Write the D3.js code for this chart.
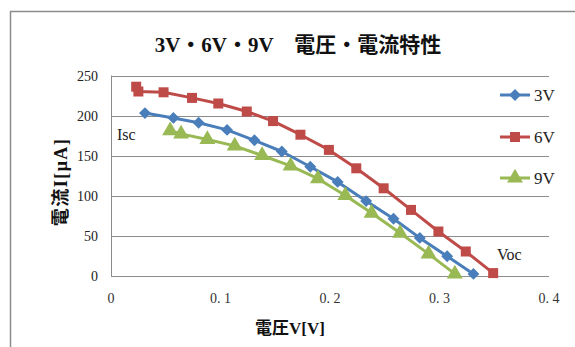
<!DOCTYPE html>
<html><head><meta charset="utf-8">
<script src="https://cdn.jsdelivr.net/npm/d3@7"></script>
<style>body{margin:0;background:#fff;}svg{display:block;}</style>
</head><body>
<svg id="c" width="575" height="347"></svg>
<script>
const title = "3V・6V・9V　電圧・電流特性";
const xTicks = [0, 0.1, 0.2, 0.3, 0.4];
const xTickLabels = ["0", "0. 1", "0. 2", "0. 3", "0. 4"];
const yTicks = [0, 50, 100, 150, 200, 250];
const seriesNames = ["3V", "6V", "9V"];
const v3 = [0.031, 0.057, 0.080, 0.106, 0.131, 0.156, 0.182, 0.207, 0.233, 0.258, 0.282, 0.307, 0.331];
const i3 = [203, 197, 191, 182, 169, 155, 136, 117, 93, 71, 47, 24, 2];
const v6 = [0.023, 0.025, 0.048, 0.074, 0.098, 0.124, 0.148, 0.173, 0.199, 0.224, 0.249, 0.274, 0.299, 0.324, 0.349];
const i6 = [236, 230, 229, 222, 215, 205, 193, 176, 157, 134, 109, 82, 55, 30, 3];
const v9 = [0.054, 0.064, 0.088, 0.113, 0.138, 0.164, 0.189, 0.214, 0.238, 0.264, 0.290, 0.314];
const i9 = [181, 177, 170, 162, 150, 137, 121, 100, 78, 53, 27, 2];

const colors = ["#4a7ebb", "#be4b48", "#98b954"];
const symbols = [d3.symbolDiamond2, d3.symbolSquare, d3.symbolTriangle];
const symSizes = [90, 100, 110];
const series = [
  {name: seriesNames[0], v: v3, i: i3},
  {name: seriesNames[1], v: v6, i: i6},
  {name: seriesNames[2], v: v9, i: i9}
];

const svg = d3.select("#c");
const serif = "'Liberation Serif','DejaVu Serif','Noto Sans CJK JP',serif";
const cjk = "'Liberation Serif','Noto Sans CJK JP',serif";

// outer border (clipped at right/bottom)
svg.append("rect").attr("x", 10.5).attr("y", 11.5).attr("width", 600).attr("height", 400)
  .attr("fill", "none").attr("stroke", "#8c8c8c").attr("stroke-width", 1.5);

const x = d3.scaleLinear().domain([0, 0.4]).range([111, 549]);
const y = d3.scaleLinear().domain([0, 250]).range([275.5, 75.5]);

// gridlines
svg.append("g").selectAll("line").data(yTicks).join("line")
  .attr("x1", 111).attr("x2", 549)
  .attr("y1", d => Math.round(y(d)) + 0.5).attr("y2", d => Math.round(y(d)) + 0.5)
  .attr("stroke", "#8c8c8c").attr("stroke-width", 1);
svg.append("line").attr("x1", 111.5).attr("x2", 111.5).attr("y1", y(250)).attr("y2", y(0) + 0.5)
  .attr("stroke", "#8c8c8c").attr("stroke-width", 1);

// y tick labels
svg.append("g").selectAll("text").data(yTicks).join("text")
  .attr("x", 98).attr("y", d => y(d) + 5)
  .attr("text-anchor", "end").attr("font-family", serif).attr("font-size", 14)
  .attr("fill", "#222").text(d => d);

// x tick labels
svg.append("g").selectAll("text").data(xTicks).join("text")
  .attr("x", d => x(d)).attr("y", 303)
  .attr("text-anchor", "middle").attr("font-family", serif).attr("font-size", 14)
  .attr("fill", "#333").text((d, k) => xTickLabels[k]);

// lines and markers
const line = d3.line().x(d => x(d[0])).y(d => y(d[1]));
series.forEach((s, k) => {
  const pts = s.v.map((vv, j) => [vv, s.i[j]]);
  svg.append("path").datum(pts).attr("d", line).attr("fill", "none")
    .attr("stroke", colors[k]).attr("stroke-width", 3).attr("stroke-linejoin", "round");
  svg.append("g").selectAll("path").data(pts).join("path")
    .attr("transform", d => `translate(${x(d[0])},${y(d[1])})`)
    .attr("d", d3.symbol().type(symbols[k]).size(symSizes[k]))
    .attr("fill", colors[k]);
});

// legend
const legY = [95, 137, 178];
series.forEach((s, k) => {
  const g = svg.append("g");
  g.append("line").attr("x1", 500).attr("x2", 530).attr("y1", legY[k]).attr("y2", legY[k])
    .attr("stroke", colors[k]).attr("stroke-width", 3);
  g.append("path").attr("transform", `translate(515,${legY[k]})`)
    .attr("d", d3.symbol().type(symbols[k]).size(symSizes[k])).attr("fill", colors[k]);
  g.append("text").attr("x", 534).attr("y", legY[k] + 6)
    .attr("font-family", serif).attr("font-size", 17).attr("fill", "#222").text(s.name);
});

// annotations
svg.append("text").attr("x", 117).attr("y", 140).attr("font-family", serif).attr("font-size", 16)
  .attr("fill", "#222").text("Isc");
svg.append("text").attr("x", 497).attr("y", 260).attr("font-family", serif).attr("font-size", 16)
  .attr("fill", "#222").text("Voc");

// title
svg.append("text").attr("x", 298).attr("y", 52).attr("text-anchor", "middle")
  .attr("font-family", cjk).attr("font-size", 21).attr("font-weight", "bold")
  .attr("fill", "#111").text(title);

// axis titles
svg.append("text").attr("x", 290).attr("y", 334).attr("text-anchor", "middle")
  .attr("font-family", cjk).attr("font-size", 17).attr("font-weight", "bold")
  .attr("fill", "#111").text("電圧V[V]");
svg.append("text").attr("transform", "translate(67,182) rotate(-90)").attr("text-anchor", "middle")
  .attr("font-family", cjk).attr("font-size", 18).attr("font-weight", "bold")
  .attr("letter-spacing", 1.5)
  .attr("fill", "#111").text("電流I[μA]");
</script>
</body></html>
